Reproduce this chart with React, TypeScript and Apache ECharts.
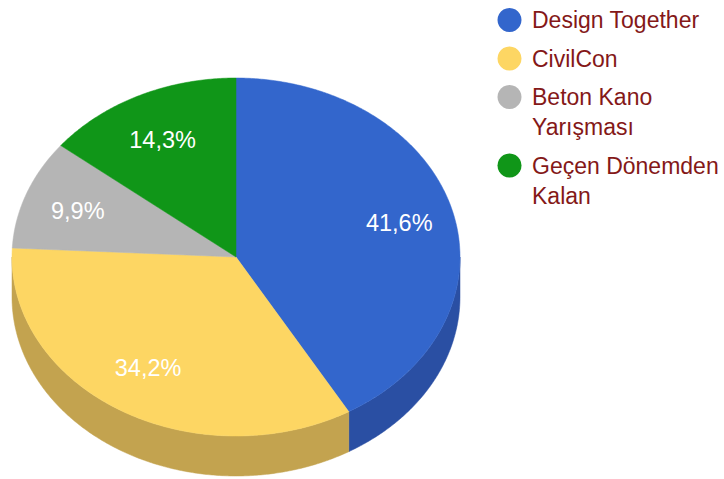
import React, { useEffect, useRef } from 'react';
import * as echarts from 'echarts';

// Legend labels as wrapped in the reference
const categories = ['Design Together', 'CivilCon', 'Beton Kano\nYarışması', 'Geçen Dönemden\nKalan'];
const shares = [41.6, 34.2, 9.9, 14.3];
const topColors = ['#3366cc', '#fdd663', '#b5b5b5', '#109618'];
const sideColors = ['#2a4fa3', '#c3a34f', '#8a8a8a', '#0c7012'];

const CX = 236;
const CY = 257;
const RX = 224;
const RY = 179;
const DEPTH = 40;
const FONT = 'Arial, "Liberation Sans", sans-serif';

export default function App() {
  const ref = useRef<HTMLDivElement>(null);

  useEffect(() => {
    if (!ref.current) return;
    const chart = echarts.init(ref.current, undefined, { renderer: 'svg' });
    const total = shares.reduce((a, b) => a + b, 0);

    const pt = (a: number, dy = 0) => [CX + RX * Math.sin(a), CY - RY * Math.cos(a) + dy];

    const renderItem = (params: any, api: any) => {
      const i = params.dataIndex;
      let before = 0;
      for (let k = 0; k < i; k++) before += shares[k];
      const v = api.value(0);
      const a0 = (before / total) * 2 * Math.PI;
      const a1 = ((before + v) / total) * 2 * Math.PI;
      const children: any[] = [];

      const s0 = Math.max(a0, Math.PI / 2);
      const s1 = Math.min(a1, 1.5 * Math.PI);
      if (s1 > s0) {
        const M = Math.max(2, Math.ceil((s1 - s0) / (Math.PI / 360)));
        const upper: number[][] = [];
        const lower: number[][] = [];
        for (let k = 0; k <= M; k++) {
          const a = s0 + ((s1 - s0) * k) / M;
          upper.push(pt(a));
          lower.unshift(pt(a, DEPTH));
        }
        children.push({
          type: 'polygon',
          shape: { points: upper.concat(lower) },
          style: { fill: sideColors[i], stroke: sideColors[i], lineWidth: 0.5 },
        });
      }

      const N = Math.max(2, Math.ceil((a1 - a0) / (Math.PI / 360)));
      const top: number[][] = [[CX, CY]];
      for (let k = 0; k <= N; k++) top.push(pt(a0 + ((a1 - a0) * k) / N));
      children.push({
        type: 'polygon',
        shape: { points: top },
        style: { fill: topColors[i], stroke: topColors[i], lineWidth: 0.5 },
      });

      const mid = (a0 + a1) / 2;
      children.push({
        type: 'text',
        x: CX + RX * 0.755 * Math.sin(mid),
        y: CY - RY * 0.725 * Math.cos(mid),
        style: {
          text: v.toFixed(1).replace('.', ',') + '%',
          fill: '#ffffff',
          font: `23.5px ${FONT}`,
          align: 'center',
          verticalAlign: 'middle',
        },
      });
      return { type: 'group', children };
    };

    const graphic: any[] = [];
    let rowY = 20;
    categories.forEach((name, i) => {
      const lines = name.split('\n').length;
      graphic.push({
        type: 'circle',
        shape: { cx: 509.5, cy: rowY, r: 12 },
        style: { fill: topColors[i] },
      });
      graphic.push({
        type: 'text',
        x: 532,
        y: rowY - 15,
        style: {
          text: name,
          fill: '#841818',
          font: `23px ${FONT}`,
          lineHeight: 30,
          align: 'left',
          verticalAlign: 'top',
        },
      });
      rowY += 38.5 + (lines - 1) * 30;
    });

    chart.setOption({
      animation: false,
      backgroundColor: '#ffffff',
      graphic,
      series: [
        {
          type: 'custom',
          coordinateSystem: 'none',
          renderItem,
          data: shares.map((v, i) => ({ value: v, name: categories[i] })),
          silent: true,
        },
      ],
    });

    return () => chart.dispose();
  }, []);

  return (
    <div
      ref={ref}
      style={{ position: 'fixed', left: 0, top: 0, width: 724, height: 479 }}
    />
  );
}
